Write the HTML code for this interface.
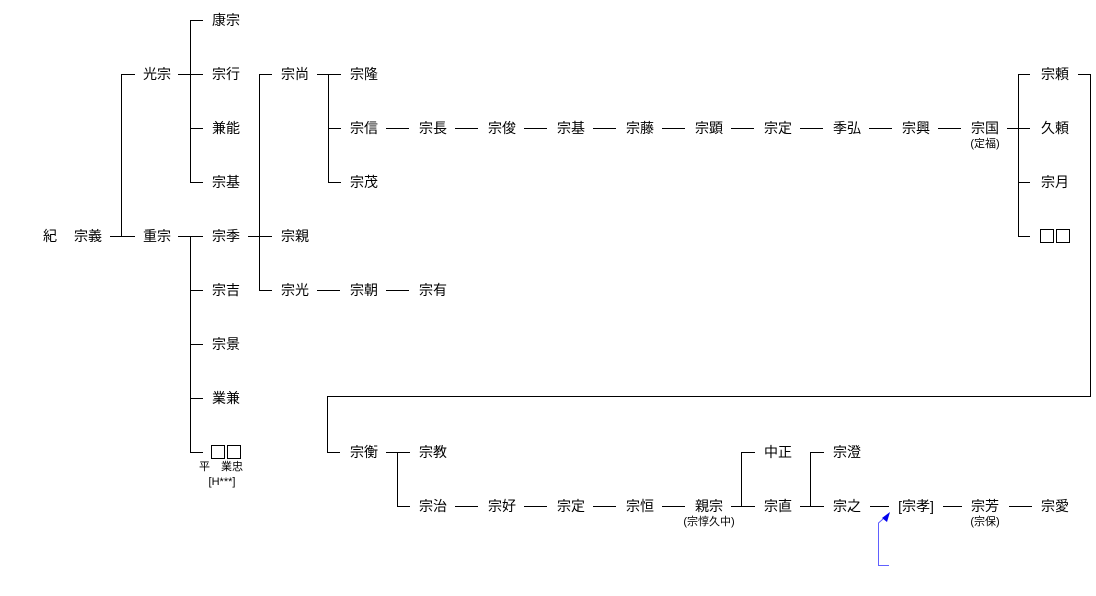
<!DOCTYPE html>
<html><head><meta charset="utf-8"><style>
html,body{margin:0;padding:0;background:#fff;}
svg{display:block;}
text{font-family:"Liberation Sans","Noto Sans CJK JP",sans-serif;font-size:14px;fill:#000;text-anchor:middle;dominant-baseline:central;}
.s{font-size:11px;}
</style></head><body>
<svg width="1096" height="596" viewBox="0 0 1096 596" xmlns="http://www.w3.org/2000/svg">
<g stroke="#000" stroke-width="1" fill="none" shape-rendering="crispEdges">
<line x1="110" y1="236.5" x2="121" y2="236.5"/>
<line x1="121.5" y1="74" x2="121.5" y2="237"/>
<line x1="121" y1="74.5" x2="135" y2="74.5"/>
<line x1="121" y1="236.5" x2="135" y2="236.5"/>
<line x1="178" y1="74.5" x2="203" y2="74.5"/>
<line x1="190.5" y1="20" x2="190.5" y2="183"/>
<line x1="190" y1="20.5" x2="203" y2="20.5"/>
<line x1="190" y1="128.5" x2="203" y2="128.5"/>
<line x1="190" y1="182.5" x2="203" y2="182.5"/>
<line x1="178" y1="236.5" x2="203" y2="236.5"/>
<line x1="190.5" y1="236" x2="190.5" y2="453"/>
<line x1="190" y1="290.5" x2="203" y2="290.5"/>
<line x1="190" y1="344.5" x2="203" y2="344.5"/>
<line x1="190" y1="398.5" x2="203" y2="398.5"/>
<line x1="190" y1="452.5" x2="203" y2="452.5"/>
<line x1="248" y1="236.5" x2="272" y2="236.5"/>
<line x1="259.5" y1="74" x2="259.5" y2="291"/>
<line x1="259" y1="74.5" x2="272" y2="74.5"/>
<line x1="259" y1="290.5" x2="272" y2="290.5"/>
<line x1="317" y1="74.5" x2="341" y2="74.5"/>
<line x1="328.5" y1="74" x2="328.5" y2="183"/>
<line x1="328" y1="128.5" x2="341" y2="128.5"/>
<line x1="328" y1="182.5" x2="341" y2="182.5"/>
<line x1="386" y1="128.5" x2="409" y2="128.5"/>
<line x1="455" y1="128.5" x2="478" y2="128.5"/>
<line x1="524" y1="128.5" x2="547" y2="128.5"/>
<line x1="593" y1="128.5" x2="616" y2="128.5"/>
<line x1="662" y1="128.5" x2="685" y2="128.5"/>
<line x1="731" y1="128.5" x2="754" y2="128.5"/>
<line x1="800" y1="128.5" x2="823" y2="128.5"/>
<line x1="869" y1="128.5" x2="892" y2="128.5"/>
<line x1="938" y1="128.5" x2="961" y2="128.5"/>
<line x1="1007" y1="128.5" x2="1030" y2="128.5"/>
<line x1="1018.5" y1="74" x2="1018.5" y2="237"/>
<line x1="1018" y1="74.5" x2="1030" y2="74.5"/>
<line x1="1018" y1="182.5" x2="1030" y2="182.5"/>
<line x1="1018" y1="236.5" x2="1030" y2="236.5"/>
<line x1="317" y1="290.5" x2="340" y2="290.5"/>
<line x1="386" y1="290.5" x2="409" y2="290.5"/>
<line x1="1078" y1="74.5" x2="1090" y2="74.5"/>
<line x1="1090.5" y1="74" x2="1090.5" y2="397"/>
<line x1="327" y1="396.5" x2="1091" y2="396.5"/>
<line x1="327.5" y1="396" x2="327.5" y2="453"/>
<line x1="327" y1="452.5" x2="340" y2="452.5"/>
<line x1="386" y1="452.5" x2="410" y2="452.5"/>
<line x1="397.5" y1="452" x2="397.5" y2="507"/>
<line x1="397" y1="506.5" x2="410" y2="506.5"/>
<line x1="455" y1="506.5" x2="478" y2="506.5"/>
<line x1="524" y1="506.5" x2="547" y2="506.5"/>
<line x1="593" y1="506.5" x2="616" y2="506.5"/>
<line x1="662" y1="506.5" x2="685" y2="506.5"/>
<line x1="731" y1="506.5" x2="755" y2="506.5"/>
<line x1="741.5" y1="452" x2="741.5" y2="507"/>
<line x1="741" y1="452.5" x2="755" y2="452.5"/>
<line x1="800" y1="506.5" x2="824" y2="506.5"/>
<line x1="810.5" y1="452" x2="810.5" y2="507"/>
<line x1="810" y1="452.5" x2="824" y2="452.5"/>
<line x1="870" y1="506.5" x2="889" y2="506.5"/>
<line x1="943" y1="506.5" x2="962" y2="506.5"/>
<line x1="1009" y1="506.5" x2="1032" y2="506.5"/>
<!-- squares -->
<rect x="211.5" y="445.5" width="13" height="13"/>
<rect x="227.5" y="445.5" width="13" height="13"/>
<rect x="1040.5" y="229.5" width="13" height="13"/>
<rect x="1056.5" y="229.5" width="13" height="13"/>
</g>
<g stroke="#6060ff" stroke-width="1" fill="none">
<polyline points="889,565.5 878.5,565.5 878.5,523 883,519"/>
</g>
<polygon points="890,512 882,518 887,522" fill="#0000ee"/>

<text x="50" y="236">紀</text>
<text x="88" y="236">宗義</text>
<text x="157" y="74">光宗</text>
<text x="157" y="236">重宗</text>
<text x="226" y="20">康宗</text>
<text x="226" y="74">宗行</text>
<text x="226" y="128">兼能</text>
<text x="226" y="182">宗基</text>
<text x="226" y="236">宗季</text>
<text x="226" y="290">宗吉</text>
<text x="226" y="344">宗景</text>
<text x="226" y="398">業兼</text>
<text class="s" x="221" y="467">平　業忠</text>
<text class="s" x="222" y="482">[H***]</text>
<text x="295" y="74">宗尚</text>
<text x="295" y="236">宗親</text>
<text x="295" y="290">宗光</text>
<text x="364" y="74">宗隆</text>
<text x="364" y="128">宗信</text>
<text x="364" y="182">宗茂</text>
<text x="364" y="290">宗朝</text>
<text x="433" y="290">宗有</text>
<text x="433" y="128">宗長</text>
<text x="502" y="128">宗俊</text>
<text x="571" y="128">宗基</text>
<text x="640" y="128">宗藤</text>
<text x="709" y="128">宗顕</text>
<text x="778" y="128">宗定</text>
<text x="847" y="128">季弘</text>
<text x="916" y="128">宗興</text>
<text x="985" y="128">宗国</text>
<text class="s" x="985" y="144">(定福)</text>
<text x="1055" y="74">宗頼</text>
<text x="1055" y="128">久頼</text>
<text x="1055" y="182">宗月</text>
<text x="364" y="452">宗衡</text>
<text x="433" y="452">宗教</text>
<text x="433" y="506">宗治</text>
<text x="502" y="506">宗好</text>
<text x="571" y="506">宗定</text>
<text x="640" y="506">宗恒</text>
<text x="709" y="506">親宗</text>
<text class="s" x="709" y="522">(宗惇久中)</text>
<text x="778" y="452">中正</text>
<text x="778" y="506">宗直</text>
<text x="847" y="452">宗澄</text>
<text x="847" y="506">宗之</text>
<text x="916" y="506">[宗孝]</text>
<text x="985" y="506">宗芳</text>
<text class="s" x="985" y="522">(宗保)</text>
<text x="1055" y="506">宗愛</text>
</svg>
</body></html>
